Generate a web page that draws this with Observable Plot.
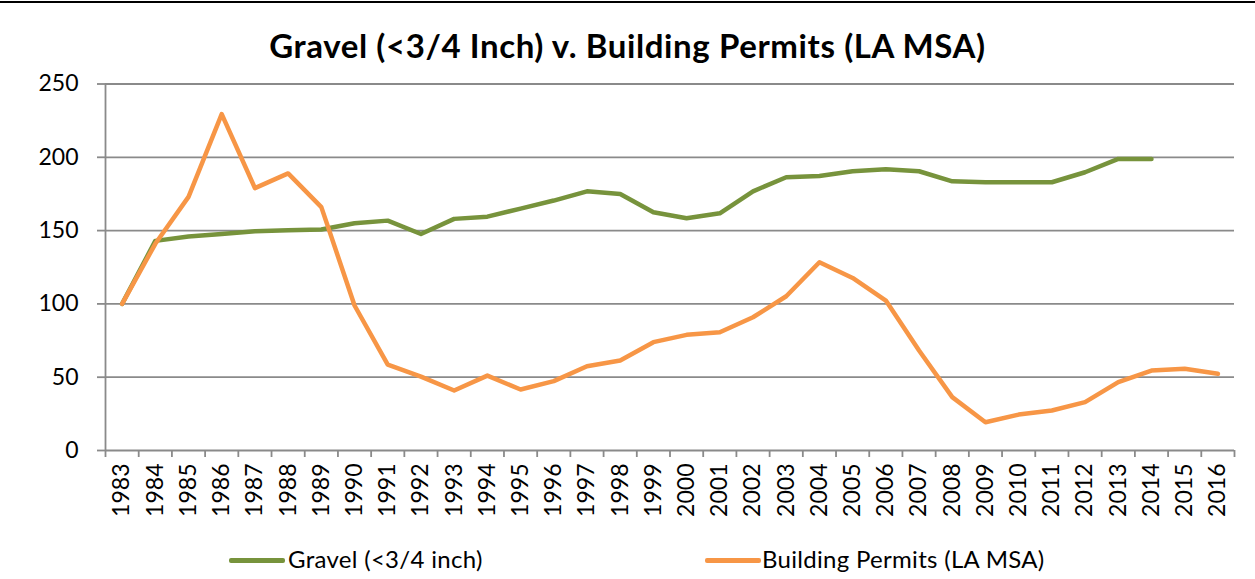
<!DOCTYPE html>
<html><head><meta charset="utf-8">
<script src="https://cdn.jsdelivr.net/npm/d3@7"></script>
<script src="https://cdn.jsdelivr.net/npm/@observablehq/plot@0.6"></script>
<style>
body{margin:0;background:#fff;width:1255px;height:579px;position:relative;overflow:hidden;font-family:Lato,"Open Sans",sans-serif;color:#000;}
#topline{position:absolute;left:0;top:1px;width:1255px;height:2px;background:#000;}
#title{position:absolute;left:0;top:22px;width:1255px;text-align:center;font-weight:700;font-size:33px;letter-spacing:0.6px;line-height:46px;}
#chart{position:absolute;left:0;top:68px;}
.leg{position:absolute;top:544px;font-size:24px;letter-spacing:0.3px;line-height:30px;white-space:nowrap;}
.sw{position:absolute;height:5px;top:558px;width:56px;border-radius:2px;}
</style>
</head><body>
<div id="topline"></div>
<div id="title">Gravel (&lt;3/4 Inch) v. Building Permits (LA MSA)</div>
<div id="chart"></div>
<div class="sw" style="left:229px;background:#77933C"></div>
<div class="leg" style="left:288px">Gravel (&lt;3/4 inch)</div>
<div class="sw" style="left:705px;background:#F79646"></div>
<div class="leg" style="left:762px">Building Permits (LA MSA)</div>
<script>
const years = [1983,1984,1985,1986,1987,1988,1989,1990,1991,1992,1993,1994,1995,1996,1997,1998,1999,2000,2001,2002,2003,2004,2005,2006,2007,2008,2009,2010,2011,2012,2013,2014,2015,2016];
const gravel = [100,143,146,147.7,149.5,150.2,150.7,155,156.8,147.7,158,159.5,165,170.5,176.8,175,162.5,158.4,161.8,176.8,186.4,187.3,190.5,191.8,190.5,183.6,183,183,183,189.8,198.9,198.9];
const permits = [100,141,173,229.5,179,189,166,98.9,58.6,50.4,40.9,51.1,41.6,47.3,57.5,61.4,73.9,78.9,80.7,90.9,105.2,128.4,117.7,102.3,68.2,36.4,19.3,24.5,27.3,33,46.6,54.5,55.7,52.3];
const yTicks = [0,50,100,150,200,250];

const gravelData = gravel.map((v,i)=>({year: years[i], value: v}));
const permitData = permits.map((v,i)=>({year: years[i], value: v}));
const bounds = years.map(y=>y-0.5).concat([years[years.length-1]+0.5]);
const grid = "#8a8a8a";
const chart = Plot.plot({
  width:1255, height:490, marginTop:15.5, marginBottom:108, marginLeft:105, marginRight:21,
  style:{fontFamily:"Lato, 'Open Sans', sans-serif", background:"#fff", color:"#000", overflow:"visible"},
  x:{type:"linear", domain:[bounds[0], bounds[bounds.length-1]]},
  y:{domain:[0,250]},
  marks:[
    Plot.gridY(yTicks, {stroke:grid, strokeOpacity:1, strokeWidth:1.8}),
    Plot.axisY(yTicks, {tickSize:8, tickPadding:19, stroke:grid, strokeWidth:1.8, fill:"#000", fontSize:23, label:null}),
    Plot.ruleX([bounds[0]], {stroke:grid, strokeWidth:1.8}),
    Plot.axisX(bounds, {tickSize:7, tickFormat:()=>"", stroke:grid, strokeWidth:1.8, label:null}),
    Plot.axisX(years, {tickSize:0, tickRotate:-90, tickPadding:13, fontSize:23, fill:"#000", label:null, tickFormat:d=>String(d)}),
    Plot.lineY(gravelData, {x:"year", y:"value", stroke:"#77933C", strokeWidth:4.5, strokeLinejoin:"round", strokeLinecap:"round"}),
    Plot.lineY(permitData, {x:"year", y:"value", stroke:"#F79646", strokeWidth:4.5, strokeLinejoin:"round", strokeLinecap:"round"})
  ]
});
document.getElementById("chart").appendChild(chart);
</script>
</body></html>
